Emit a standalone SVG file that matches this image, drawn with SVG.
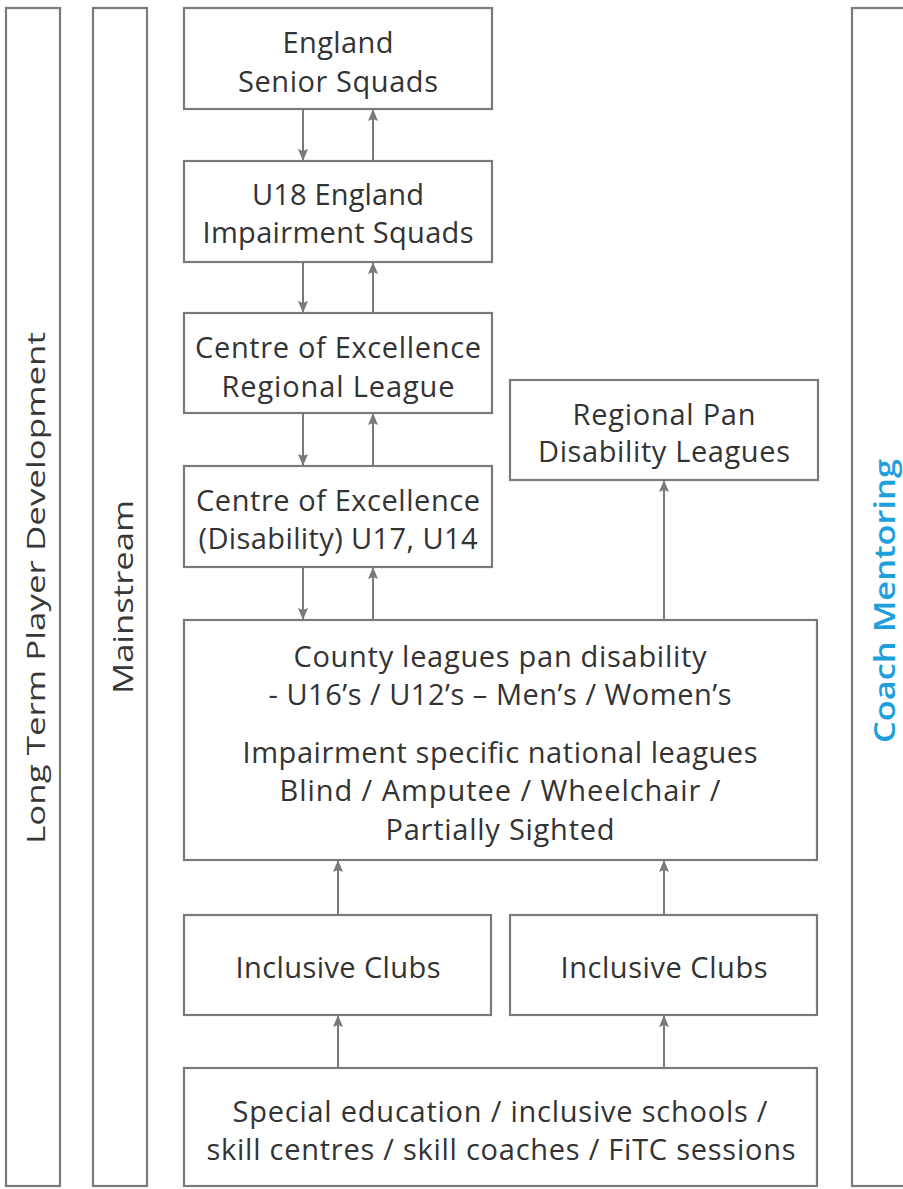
<svg xmlns="http://www.w3.org/2000/svg" width="903" height="1189" viewBox="0 0 903 1189">
<defs>
<style>
.box{fill:#fff;stroke:#7a7a7a;stroke-width:2.2}
.t{font-family:"Open Sans","Liberation Sans",sans-serif;font-size:29px;font-weight:500;fill:#333;text-anchor:middle}
.v{font-family:"Open Sans","Liberation Sans",sans-serif;font-weight:500;fill:#383838;text-anchor:middle}
.blue{font-family:"Open Sans","Liberation Sans",sans-serif;font-weight:600;fill:#1f9fdc;text-anchor:middle}
.c{stroke:#7a7a7a;stroke-width:2;fill:none;marker-end:url(#ah)}
</style>
<marker id="ah" viewBox="0 0 12 10" refX="12" refY="5" markerWidth="12" markerHeight="10" markerUnits="userSpaceOnUse" orient="auto">
<path d="M0,0 L12,5 L0,10 L2,5 z" fill="#7a7a7a"/>
</marker>
</defs>
<rect width="903" height="1189" fill="#fff"/>

<g id="ltpd">
<rect class="box" x="6" y="8" width="54" height="1178"/>
<text class="v" font-size="25" transform="translate(45,588) rotate(-90)" textLength="512" lengthAdjust="spacingAndGlyphs">Long Term Player Development</text>
</g>
<g id="mainstream">
<rect class="box" x="93" y="8" width="54" height="1178"/>
<text class="v" font-size="27" transform="translate(133,597) rotate(-90)" textLength="194" lengthAdjust="spacingAndGlyphs">Mainstream</text>
</g>
<g id="coach-mentoring">
<rect class="box" x="852" y="8" width="70" height="1178"/>
<text class="blue" font-size="29" transform="translate(895,601) rotate(-90)" textLength="284" lengthAdjust="spacingAndGlyphs">Coach Mentoring</text>
</g>

<g id="england-senior">
<rect class="box" x="184" y="8" width="308" height="101"/>
<text class="t" x="338" y="53" textLength="111">England</text>
<text class="t" x="338" y="92" textLength="200">Senior Squads</text>
</g>
<g id="u18-england">
<rect class="box" x="184" y="161" width="308" height="101"/>
<text class="t" x="338" y="205" textLength="172">U18 England</text>
<text class="t" x="338" y="243" textLength="271">Impairment Squads</text>
</g>
<g id="coe-regional">
<rect class="box" x="184" y="313" width="308" height="100"/>
<text class="t" x="338" y="358" textLength="286">Centre of Excellence</text>
<text class="t" x="338" y="397" textLength="233">Regional League</text>
</g>
<g id="coe-disability">
<rect class="box" x="184" y="466" width="308" height="101"/>
<text class="t" x="338" y="511" textLength="284">Centre of Excellence</text>
<text class="t" x="338" y="549" textLength="279">(Disability) U17, U14</text>
</g>
<g id="regional-pan">
<rect class="box" x="510" y="380" width="308" height="100"/>
<text class="t" x="664" y="425" textLength="183">Regional Pan</text>
<text class="t" x="664" y="462" textLength="252">Disability Leagues</text>
</g>
<g id="county-leagues">
<rect class="box" x="184" y="620" width="633" height="240"/>
<text class="t" x="500" y="667" textLength="413">County leagues pan disability</text>
<text class="t" x="500" y="705" textLength="463">- U16’s / U12’s – Men’s / Women’s</text>
<text class="t" x="500" y="763" textLength="515">Impairment specific national leagues</text>
<text class="t" x="500" y="801" textLength="441">Blind / Amputee / Wheelchair /</text>
<text class="t" x="500" y="840" textLength="229">Partially Sighted</text>
</g>
<g id="inclusive-clubs-1">
<rect class="box" x="184" y="915" width="307" height="100"/>
<text class="t" x="338" y="978" textLength="205">Inclusive Clubs</text>
</g>
<g id="inclusive-clubs-2">
<rect class="box" x="510" y="915" width="307" height="100"/>
<text class="t" x="664" y="978" textLength="207">Inclusive Clubs</text>
</g>
<g id="schools">
<rect class="box" x="184" y="1068" width="633" height="118"/>
<text class="t" x="500" y="1122" textLength="535">Special education / inclusive schools /</text>
<text class="t" x="501" y="1160" textLength="589">skill centres / skill coaches / FiTC sessions</text>
</g>

<g id="connectors">
<path class="c" d="M303,109 V161"/>
<path class="c" d="M373,161 V109"/>
<path class="c" d="M303,262 V313"/>
<path class="c" d="M373,313 V262"/>
<path class="c" d="M303,413 V466"/>
<path class="c" d="M373,466 V413"/>
<path class="c" d="M303,567 V620"/>
<path class="c" d="M373,620 V567"/>
<path class="c" d="M664,620 V480"/>
<path class="c" d="M338,915 V860"/>
<path class="c" d="M664,915 V860"/>
<path class="c" d="M338,1068 V1015"/>
<path class="c" d="M664,1068 V1015"/>
</g>
</svg>
